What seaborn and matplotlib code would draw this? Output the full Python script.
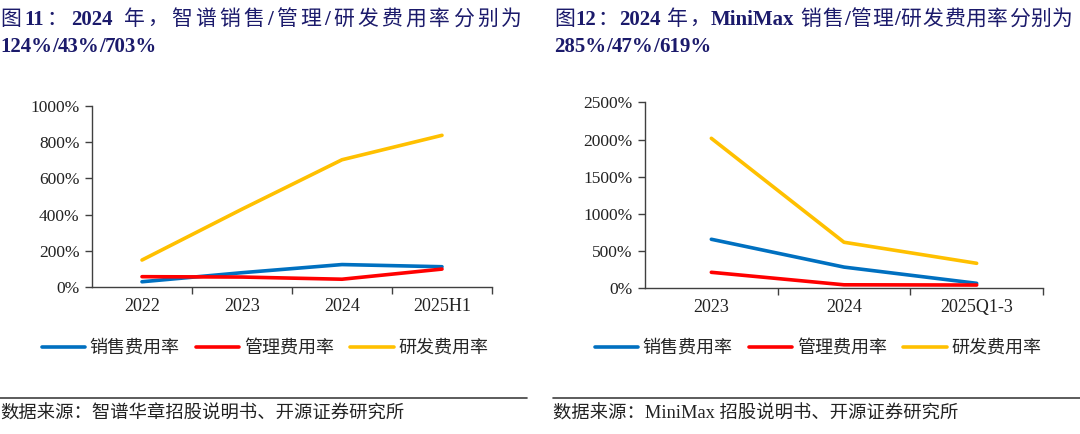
import re
import matplotlib
matplotlib.use("Agg")
import matplotlib.pyplot as plt
import seaborn as sns
import pandas as pd
from matplotlib.ticker import FixedLocator, FuncFormatter
from matplotlib.lines import Line2D

sns.set_theme(style="white")
plt.rcParams['font.family'] = ['Liberation Serif', 'Noto Sans CJK SC', 'DejaVu Sans']

series_names = ["销售费用率", "管理费用率", "研发费用率"]
colors = ["#0070C0", "#FF0000", "#FFC000"]

# Left chart: 智谱
cats_left = ["2022", "2023", "2024", "2025H1"]
sales_left = [29, 79, 124, 112]
admin_left = [57, 55, 43, 99]
rd_left = [149, 430, 703, 838]

# Right chart: MiniMax
cats_right = ["2023", "2024", "2025Q1-3"]
sales_right = [659, 285, 67]
admin_right = [215, 47, 44]
rd_right = [2016, 619, 336]

title_left = ["图11：2024 年，智谱销售/管理/研发费用率分别为", "124%/43%/703%"]
title_right = ["图12：2024 年，MiniMax 销售/管理/研发费用率分别为", "285%/47%/619%"]
source_left = "数据来源：智谱华章招股说明书、开源证券研究所"
source_right = "数据来源：MiniMax 招股说明书、开源证券研究所"


def long_df(cats, vals):
    rows = []
    for name, v in zip(series_names, vals):
        for c, y in zip(cats, v):
            rows.append({"cat": c, "val": y, "series": name})
    return pd.DataFrame(rows)


W, H = 1080, 434
fig = plt.figure(figsize=(W / 100, H / 100), dpi=100)
renderer = fig.canvas.get_renderer()


def px_axes(x0, x1, ytop, ybot):
    return fig.add_axes([x0 / W, (H - ybot) / H, (x1 - x0) / W, (ybot - ytop) / H])


ax1 = px_axes(92, 492, 106, 287)
ax2 = px_axes(645, 1043, 102.3, 288.3)

tick_col = "#222222"
for ax, cats, vals, ymax, ystep in [
    (ax1, cats_left, [sales_left, admin_left, rd_left], 1000, 200),
    (ax2, cats_right, [sales_right, admin_right, rd_right], 2500, 500),
]:
    df = long_df(cats, vals)
    df["x"] = df["cat"].map({c: i for i, c in enumerate(cats)})
    sns.lineplot(data=df, x="x", y="val", hue="series", hue_order=series_names,
                 palette=colors, linewidth=2.6, ax=ax, legend=False, sort=False)
    n = len(cats)
    ax.set_xlim(-0.5, n - 0.5)
    ax.set_ylim(0, ymax)
    ax.set_xticks(range(n))
    ax.set_xticklabels(cats)
    ax.xaxis.set_minor_locator(FixedLocator([i + 0.5 for i in range(n)]))
    ax.set_yticks(range(0, ymax + 1, ystep))
    ax.yaxis.set_major_formatter(FuncFormatter(lambda v, p: f"{int(v)}%"))
    ax.set_xlabel("")
    ax.set_ylabel("")
    for s in ["top", "right"]:
        ax.spines[s].set_visible(False)
    for s in ["left", "bottom"]:
        ax.spines[s].set_color("#404040")
        ax.spines[s].set_linewidth(1.0)
    ax.tick_params(axis="x", which="major", length=0, pad=8, labelsize=13, labelcolor=tick_col)
    ax.tick_params(axis="x", which="minor", length=5, width=1, color="#404040", direction="out", bottom=True)
    ax.tick_params(axis="y", which="major", length=5, width=1, color="#404040", direction="out", left=True,
                   labelsize=12.5, labelcolor=tick_col, pad=4)
    ax.grid(False)

# Legends
handles = [Line2D([0], [0], color=c, lw=2.6) for c in colors]
for cx in [265, 818]:
    fig.legend(handles, series_names, loc="center", bbox_to_anchor=(cx / W, (H - 348) / H),
               ncol=3, frameon=False, handlelength=2.4, handletextpad=0.25,
               columnspacing=0.9, prop={"family": ["Noto Sans CJK SC"], "size": 13})

title_col = "#1b1a6b"
TFS = 15


def tokens(s):
    return re.findall(r"[A-Za-z0-9%\-]+| |.", s)


def draw_line(s, x0, x1, ybase, justify):
    toks = tokens(s)
    arts = []
    for t in toks:
        latin = bool(re.match(r"[A-Za-z0-9%\-/ ]", t))
        if latin:
            a = fig.text(0, 0, t if t != " " else "a", fontsize=TFS, fontweight="bold",
                         color=title_col, va="baseline", ha="left",
                         family=["Liberation Serif"])
        else:
            a = fig.text(0, 0, t, fontsize=TFS, color=title_col, va="baseline", ha="left",
                         family=["Noto Sans CJK SC"])
        if t == " ":
            w = a.get_window_extent(renderer).width * 0.5
            a.set_text("")
        else:
            w = a.get_window_extent(renderer).width
        arts.append((a, w))
    natural = sum(w for _, w in arts)
    gap = (x1 - x0 - natural) / (len(arts) - 1) if justify and len(arts) > 1 else 0
    x = x0
    for a, w in arts:
        a.set_position((x / W, 1 - ybase / H))
        x += w + gap


draw_line(title_left[0], 0, 522, 25, True)
draw_line(title_left[1], 0, 0, 52, False)
draw_line(title_right[0], 554, 1073, 25, True)
draw_line(title_right[1], 554, 554, 52, False)

# Footer lines and sources
fig.add_artist(Line2D([0, 527 / W], [1 - 398 / H, 1 - 398 / H], color="#404040", lw=1.2))
fig.add_artist(Line2D([553 / W, 1], [1 - 398 / H, 1 - 398 / H], color="#404040", lw=1.2))
fig.text(0, 1 - 414 / H, source_left, fontsize=13.2, color="#222222", va="center", ha="left")
fig.text(553 / W, 1 - 414 / H, source_right, fontsize=13.2, color="#222222", va="center", ha="left")

fig.savefig("out.png", dpi=100)
